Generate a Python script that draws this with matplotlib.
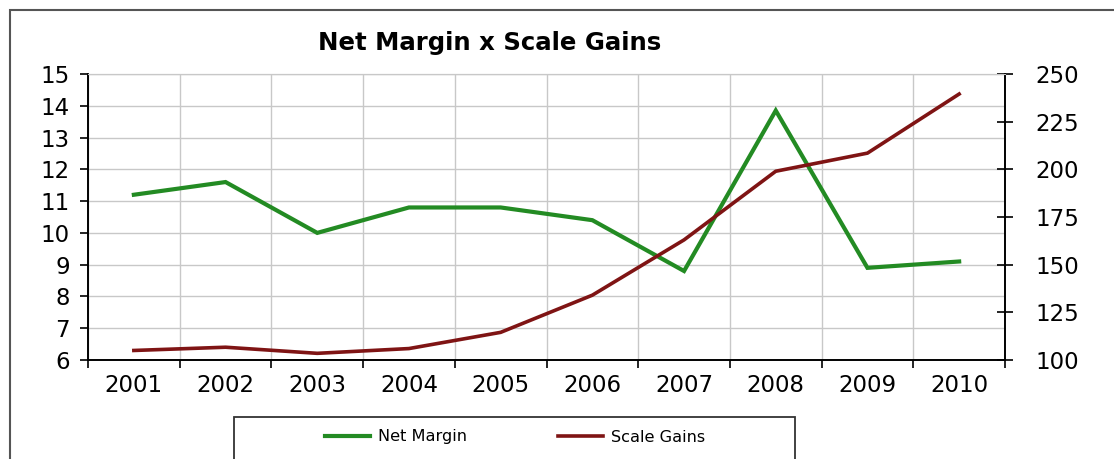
import numpy as np
import matplotlib.pyplot as plt
from matplotlib.patches import Rectangle

years = ["2001", "2002", "2003", "2004", "2005", "2006", "2007", "2008", "2009", "2010"]
net_margin = [11.2, 11.6, 10.0, 10.8, 10.8, 10.4, 8.8, 13.85, 8.9, 9.1]
scale_gains = [105, 106.7, 103.5, 106, 114.5, 134, 163, 199, 208.5, 239.5]

GREEN = "#238b23"
RED = "#7f1414"
GRID = "#c8c8c8"

def main():
    # the source text is a stretched Arial, DejaVu Sans is closest in width
    plt.rcParams["font.family"] = ["DejaVu Sans"]
    fig = plt.figure(figsize=(11.14, 4.59), dpi=100)
    ax = fig.add_axes([88 / 1114, 1 - 360 / 459, (1005 - 88) / 1114, (360 - 74) / 459])
    ax2 = ax.twinx()

    x = np.arange(len(years))
    ax.plot(x, net_margin, color=GREEN, lw=3.0, solid_joinstyle="miter", zorder=3)
    ax2.plot(x, scale_gains, color=RED, lw=2.6, solid_joinstyle="round", zorder=3)

    ax.set_xlim(-0.5, len(years) - 0.5)
    ax.set_ylim(6, 15)
    ax2.set_ylim(100, 250)
    ax.set_yticks(np.arange(6, 16))
    ax2.set_yticks(np.arange(100, 251, 25))

    # category boundaries carry the tick marks and grid, centres carry labels
    ax.set_xticks(np.arange(-0.5, len(years)))
    ax.set_xticklabels([])
    ax.set_xticks(x, minor=True)
    ax.set_xticklabels(years, minor=True)
    ax.tick_params(axis="x", which="major", direction="out", length=6, width=1.2)
    ax.tick_params(axis="x", which="minor", length=0, pad=10, labelsize=16.5)
    ax.tick_params(axis="y", direction="out", length=6, width=1.2, pad=7, labelsize=16.5)
    ax2.tick_params(axis="y", direction="inout", length=12, width=1.2, pad=16, labelsize=16.5)

    ax.grid(True, which="major", color=GRID, lw=1.0)
    ax.set_axisbelow(True)
    for a in (ax, ax2):
        a.spines["top"].set_color(GRID)
        a.spines["left"].set_linewidth(1.2)
        a.spines["bottom"].set_linewidth(1.2)
        a.spines["right"].set_linewidth(1.2)

    fig.text(490 / 1114, 1 - 43 / 459, "Net Margin x Scale Gains", ha="center", va="center",
             fontsize=17.6, fontweight="bold")

    # outer chart border, running off the right and bottom edges
    fig.patches.append(Rectangle((10 / 1114, -0.1), 1.2, 1.1 - 10 / 459,
                                 transform=fig.transFigure, fill=False, ec="#555555", lw=1.5))
    # legend box, cut off at the bottom
    fig.patches.append(Rectangle((234 / 1114, -0.1), (795 - 234) / 1114, 0.1 + (459 - 417) / 459,
                                 transform=fig.transFigure, fill=False, ec="#333333", lw=1.3))

    h1, = ax.plot([], [], color=GREEN, lw=3.0)
    h2, = ax.plot([], [], color=RED, lw=2.6)
    fig.legend([h1, h2], ["Net Margin", "Scale Gains"], loc="center",
               bbox_to_anchor=(515 / 1114, 1 - 437 / 459), ncol=2, frameon=False,
               fontsize=11.6, handlelength=2.8, handletextpad=0.45, columnspacing=5.7)

    fig.savefig("out.png", dpi=100)
    plt.close(fig)


if __name__ == "__main__":
    main()
